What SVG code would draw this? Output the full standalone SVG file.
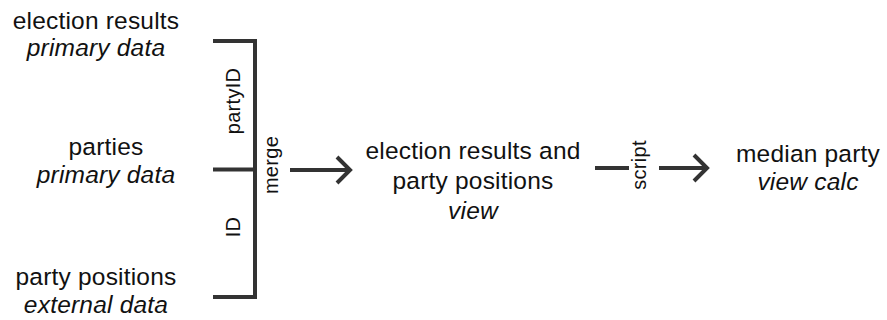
<svg xmlns="http://www.w3.org/2000/svg" width="887" height="320" viewBox="0 0 887 320">
<style>
  .t { font-family: "Liberation Sans", Arial, sans-serif; font-size: 24.5px; fill: #111; text-anchor: middle; letter-spacing: 0.2px; }
  .i { font-style: italic; }
  .lbl { font-family: "Liberation Sans", Arial, sans-serif; font-size: 20px; fill: #111; text-anchor: middle; letter-spacing: 0.3px; }
  .ln { stroke: #333; stroke-width: 4; fill: none; stroke-linecap: butt; stroke-linejoin: miter; }
</style>
<rect width="887" height="320" fill="#fff"/>
<g id="election-results">
  <text class="t" x="96" y="29">election results</text>
  <text class="t i" x="96" y="55.5">primary data</text>
</g>
<g id="parties">
  <text class="t" x="106" y="155">parties</text>
  <text class="t i" x="106" y="183">primary data</text>
</g>
<g id="party-positions">
  <text class="t" x="96" y="285">party positions</text>
  <text class="t i" x="96" y="313">external data</text>
</g>
<g id="view">
  <text class="t" x="473" y="158.5">election results and</text>
  <text class="t" x="473" y="189">party positions</text>
  <text class="t i" x="473" y="218.5">view</text>
</g>
<g id="median-party">
  <text class="t" x="808" y="161.5">median party</text>
  <text class="t i" x="808" y="190">view calc</text>
</g>
<g id="connectors">
  <polyline class="ln" points="213,41 255,41 255,297 213,297"/>
  <line class="ln" x1="213" y1="169.5" x2="255" y2="169.5"/>
  <text class="lbl" transform="translate(240,101) rotate(-90)">partyID</text>
  <text class="lbl" transform="translate(240,227) rotate(-90)">ID</text>
  <text class="lbl" transform="translate(278,165) rotate(-90)">merge</text>
  <line class="ln" x1="290" y1="170" x2="349" y2="170"/>
  <polyline class="ln" points="337,157 350,170 337,183"/>
  <line class="ln" x1="595" y1="168" x2="629" y2="168"/>
  <text class="lbl" transform="translate(646,165) rotate(-90)">script</text>
  <line class="ln" x1="659" y1="168" x2="705" y2="168"/>
  <polyline class="ln" points="694,155 707,168 694,181"/>
</g>
</svg>
